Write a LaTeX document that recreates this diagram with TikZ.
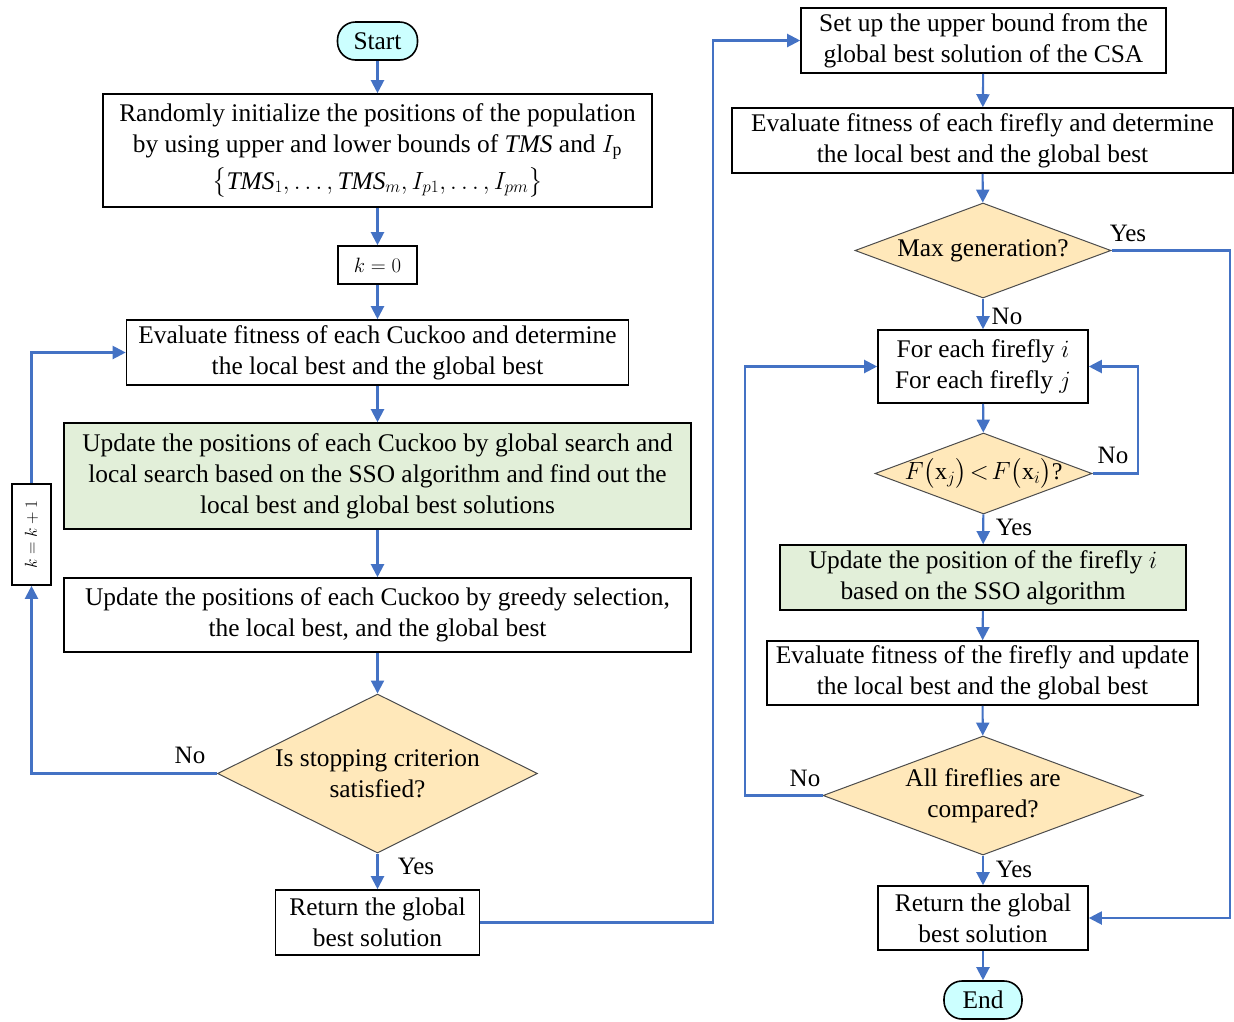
\documentclass[tikz,border=0pt]{standalone}
\usepackage{amsmath}
\usepackage{fontspec}
\setmainfont{Liberation Serif}
\usetikzlibrary{arrows.meta,positioning,shapes.geometric}
\definecolor{csaInk}{HTML}{000000}
\definecolor{csaFlow}{HTML}{4472C4}
\definecolor{csaTerm}{HTML}{CCFFFF}
\definecolor{csaTest}{HTML}{FFE8BA}
\definecolor{csaSso}{HTML}{E2EFD9}
\tikzset{
  % Shared flowchart look: black frames, blue connectors with solid heads.
  csa/base/.style={
    font=\fontsize{25.4pt}{31pt}\selectfont,
    text=csaInk,
    line join=miter
  },
  csa/process/.style={
    draw=csaInk,
    fill=white,
    line width=1.6pt,
    align=center,
    inner sep=0pt
  },
  csa/sso step/.style={
    csa/process,
    fill=csaSso
  },
  csa/terminal/.style={
    csa/process,
    fill=csaTerm,
    rounded corners=18pt
  },
  csa/decision/.style={
    diamond,
    draw=csaInk!70,
    fill=csaTest,
    line width=1pt,
    align=center,
    inner sep=0pt
  },
  csa/math label/.style={
    font=\fontsize{20pt}{24pt}\selectfont
  },
  csa/tag/.style={
    font=\fontsize{25pt}{28pt}\selectfont,
    inner sep=1pt
  },
  csa/flow/.style={
    -{Triangle[length=13pt,width=13pt]},
    draw=csaFlow,
    line width=2.1pt
  }
}
\begin{document}
\begin{tikzpicture}[
  csa/base,x=1pt,y=-1pt,
  box/.style={csa/process},
  term/.style={csa/terminal},
  test/.style={csa/decision},
  flow/.style={csa/flow}
]
  \path[use as bounding box] (0,0) rectangle (1234,1021);

  % Cuckoo search stage (left column)
  \node[term,minimum width=80pt,minimum height=38pt] (start) at (377.5,41) {Start};
  \node[box,minimum width=549pt,minimum height=113pt] (init) at (377.5,150.5)
    {Randomly initialize the positions of the population\\
     by using upper and lower bounds of \textit{TMS} and $I_{\mathrm{p}}$\\[6pt]
     $\bigl\{\textit{TMS}_1,\ldots,\textit{TMS}_m,I_{p1},\ldots,I_{pm}\bigr\}$};
  \node[box,csa/math label,minimum width=79pt,minimum height=38pt] (kzero) at (377.5,265) {$k=0$};
  \node[box,minimum width=502pt,minimum height=65pt] (evalc) at (377.5,352.5)
    {Evaluate fitness of each Cuckoo and determine\\the local best and the global best};
  \node[csa/sso step,minimum width=627pt,minimum height=106pt] (updc) at (377.5,476)
    {Update the positions of each Cuckoo by global search and\\
     local search based on the SSO algorithm and find out the\\
     local best and global best solutions};
  \node[box,minimum width=627pt,minimum height=74pt] (greedy) at (377.5,615)
    {Update the positions of each Cuckoo by greedy selection,\\the local best, and the global best};
  \node[test,aspect=2,minimum width=320pt,minimum height=159pt] (stop) at (377.5,773.5)
    {Is stopping criterion\\satisfied?};
  \node[box,minimum width=204pt,minimum height=65pt] (retc) at (377.5,922.5)
    {Return the global\\best solution};
  \node[box,csa/math label,font=\fontsize{18pt}{22pt}\selectfont,rotate=90,
    minimum width=101pt,minimum height=39pt] (kinc) at (31.5,534.5) {$k=k+1$};

  % Firefly stage (right column)
  \node[box,minimum width=365pt,minimum height=65pt] (bound) at (983.5,40.5)
    {Set up the upper bound from the\\global best solution of the CSA};
  \node[box,minimum width=501pt,minimum height=65pt] (evalf) at (982.5,140.5)
    {Evaluate fitness of each firefly and determine\\the local best and the global best};
  \node[test,aspect=2.7,minimum width=256pt,minimum height=95pt] (maxgen) at (983,250.5) {Max generation?};
  \node[box,minimum width=210pt,minimum height=73pt] (pairs) at (983,366.5)
    {For each firefly $i$\\For each firefly $j$};
  \node[test,aspect=2.68,inner ysep=-5pt,font=\fontsize{24pt}{28pt}\selectfont,
    minimum width=217pt,minimum height=81pt] (cmp) at (983.5,473.5)
    {$F\bigl(\mathrm{x}_j\bigr)\!<\!F\bigl(\mathrm{x}_i\bigr)$?};
  \node[csa/sso step,minimum width=406pt,minimum height=65pt] (updf) at (983,577.5)
    {Update the position of the firefly $i$\\based on the SSO algorithm};
  \node[box,minimum width=431pt,minimum height=64pt] (evalu) at (982.5,673)
    {Evaluate fitness of the firefly and update\\the local best and the global best};
  \node[test,aspect=2.69,minimum width=320pt,minimum height=119pt] (allcmp) at (983,795.5)
    {All fireflies are\\compared?};
  \node[box,minimum width=210pt,minimum height=64pt] (retf) at (983,918)
    {Return the global\\best solution};
  \node[term,minimum width=78pt,minimum height=38pt] (finish) at (983,1000) {End};

  \coordinate (jump) at (713,922.5);
  \coordinate (yesTurn) at (1230,250.5);
  \coordinate (noTurn) at (1138,473.5);
  \coordinate (loopTurn) at (745,795.5);

  \foreach \a/\b in {start/init,init/kzero,kzero/evalc,evalc/updc,updc/greedy,greedy/stop,stop/retc,
    bound/evalf,evalf/maxgen,maxgen/pairs,pairs/cmp,cmp/updf,updf/evalu,evalu/allcmp,allcmp/retf,retf/finish}
    \draw[flow] (\a) -- (\b);
  \draw[flow] (stop.west) -| (kinc.west);
  \draw[flow] (kinc.east) |- (evalc.west);
  \draw[flow] (retc.east) -- (jump) |- (bound.west);
  \draw[flow] (maxgen.east) -- (yesTurn) |- (retf.east);
  \draw[flow] (cmp.east) -- (noTurn) |- (pairs.east);
  \draw[flow] (allcmp.west) -- (loopTurn) |- (pairs.west);

  \node[csa/tag] (stopNo) at (190,755) {No};
  \node[csa/tag] (stopYes) at (416,866) {Yes};
  \node[csa/tag] (genYes) at (1128,233) {Yes};
  \node[csa/tag] (genNo) at (1007,316) {No};
  \node[csa/tag] (cmpNo) at (1113,455) {No};
  \node[csa/tag] (cmpYes) at (1014,527) {Yes};
  \node[csa/tag] (allNo) at (805,778) {No};
  \node[csa/tag] (allYes) at (1014,869) {Yes};
\end{tikzpicture}
\end{document}
